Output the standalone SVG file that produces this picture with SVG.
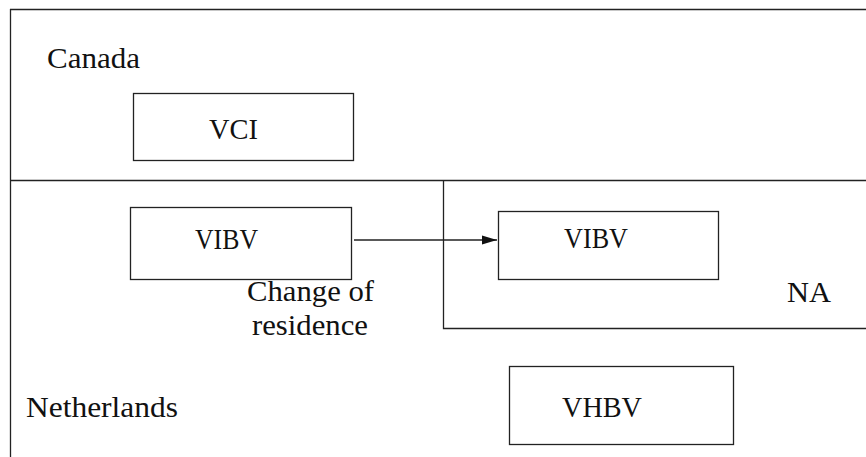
<svg xmlns="http://www.w3.org/2000/svg" width="866" height="457" viewBox="0 0 866 457">
<style>
.ln{stroke:#222;stroke-width:1.3;fill:none}
.bx{stroke:#222;stroke-width:1.3;fill:#fff}
.t{font-family:"Liberation Serif","Times New Roman",serif;font-size:29px;fill:#111}
</style>
<defs>
<marker id="ah" markerWidth="16" markerHeight="10" refX="15" refY="5" orient="auto" markerUnits="userSpaceOnUse">
<path d="M0,0.5 L15,5 L0,9.5 Z" fill="#111"/>
</marker>
</defs>
<rect width="866" height="457" fill="#fff"/>
<g id="regions">
<path class="ln" d="M10,9.5 H866 M10.5,9 V457 M10,180.5 H866"/>
<path class="ln" d="M443.5,180 V328.5 H866"/>
<text class="t" x="47" y="68" textLength="93" lengthAdjust="spacingAndGlyphs">Canada</text>
<text class="t" x="26" y="417" textLength="152" lengthAdjust="spacingAndGlyphs">Netherlands</text>
<text class="t" x="787" y="302" textLength="44" lengthAdjust="spacingAndGlyphs">NA</text>
</g>
<g id="vci">
<rect class="bx" x="133.5" y="93.5" width="220" height="67"/>
<text class="t" x="209" y="139" textLength="49" lengthAdjust="spacingAndGlyphs">VCI</text>
</g>
<g id="vibv-nl">
<rect class="bx" x="130.5" y="207.5" width="221" height="72"/>
<text class="t" x="195" y="249" textLength="63" lengthAdjust="spacingAndGlyphs">VIBV</text>
</g>
<g id="vibv-na">
<rect class="bx" x="498.5" y="211.5" width="220" height="68"/>
<text class="t" x="564" y="248" textLength="64" lengthAdjust="spacingAndGlyphs">VIBV</text>
</g>
<g id="vhbv">
<rect class="bx" x="509.5" y="366.5" width="224" height="78"/>
<text class="t" x="562" y="417" textLength="80" lengthAdjust="spacingAndGlyphs">VHBV</text>
</g>
<g id="connectors">
<line class="ln" x1="354" y1="240" x2="497" y2="240" marker-end="url(#ah)"/>
<text class="t" x="247" y="301" textLength="127" lengthAdjust="spacingAndGlyphs">Change of</text>
<text class="t" x="252" y="335" textLength="116" lengthAdjust="spacingAndGlyphs">residence</text>
</g>
</svg>
